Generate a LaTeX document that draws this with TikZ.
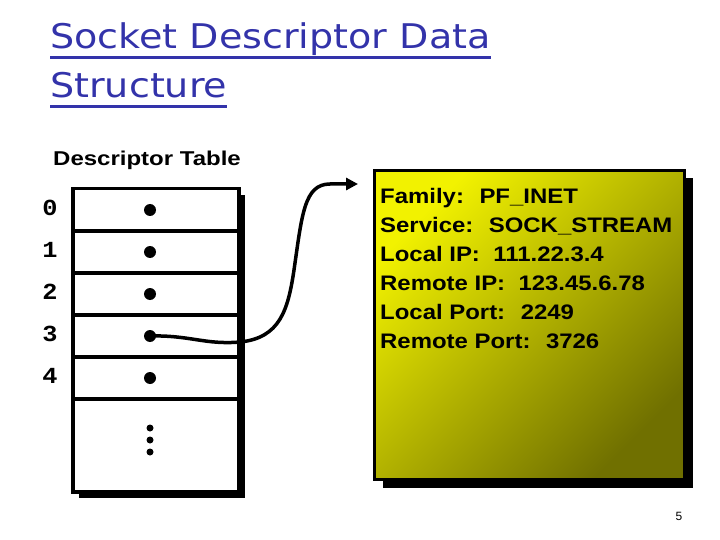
\documentclass[tikz,border=0pt]{standalone}
\usepackage{fontspec}
\setmainfont{Liberation Sans}
\newfontfamily\ttlfont[FakeStretch=1.12]{DejaVu Sans}
\newfontfamily\boxfont[FakeStretch=1.14]{Liberation Sans}
\newfontfamily\hdrfont[FakeStretch=1.2]{Liberation Sans}
\newfontfamily\idxfont[FakeStretch=1.1]{Liberation Mono}
\newcommand{\ttlunder}[1]{\setbox0\hbox{#1}\rlap{\rule[-10.5pt]{\wd0}{3pt}}\box0}
\usetikzlibrary{arrows.meta,positioning,shadows}
\definecolor{ttl}{RGB}{51,51,170}
\definecolor{lem}{RGB}{242,242,0}
\definecolor{olv}{RGB}{112,112,0}

\begin{document}
\begin{tikzpicture}[x=1pt,y=-1pt,>={Triangle[length=12pt,width=12pt]},
  cell/.style={draw,line width=3.5pt,minimum width=166pt,minimum height=42pt,anchor=north,inner sep=0pt},
  idx/.style={font=\idxfont\bfseries\fontsize{23}{23}\selectfont,inner sep=0pt},
  ptr/.style={circle,fill,inner sep=0pt,minimum size=12pt},
  more/.style={circle,fill,inner sep=0pt,minimum size=7pt},
  shade/.style={drop shadow={shadow xshift=#1,shadow yshift=-#1,fill=black,opacity=1}}]
\useasboundingbox (0,0) rectangle (720,540);

% ---------- title ----------
\node[anchor=north west,inner sep=0pt,align=left,text=ttl,
  font=\ttlfont\fontsize{34}{49}\selectfont] (ttl) at (50,22)
  {\ttlunder{Socket Descriptor Data}\\\ttlunder{Structure}};

% ---------- descriptor table ----------
\node[font=\hdrfont\bfseries\fontsize{20}{20}\selectfont] (hdr) at (147,160) {Descriptor Table};
\node[draw,line width=3.5pt,fill=white,shade=6pt,minimum width=166pt,minimum height=303pt,
  anchor=north,inner sep=0pt] (tab) at (156,187) {};
\foreach \k in {0,...,4} {
  \node[cell] (r\k) at (156,{187+42*\k}) {};
  \node[idx] (i\k) at (50,{208+42*\k}) {\k};
  \node[ptr] (d\k) at (150,{210+42*\k}) {};
}
\node[cell,line width=2.5pt,minimum height=93pt] (r5) at (156,397) {};
\node[more] (e1) at (150,428) {};
\node[more] (e2) at (150,440) {};
\node[more] (e3) at (150,452) {};

% ---------- socket structure ----------
\node[draw,line width=3pt,shading=axis,top color=lem,bottom color=olv,shading angle=45,
  shade=8pt,minimum width=310pt,minimum height=309pt,anchor=north west,inner sep=0pt] (info) at (373,169) {};
\node[anchor=north west,inner sep=0pt,align=left,
  font=\boxfont\bfseries\fontsize{21}{29}\selectfont] (facts) at (380,188)
  {Family:~ PF\_INET\\
   Service:~ SOCK\_STREAM\\
   Local IP:~ 111.22.3.4\\
   Remote IP:~ 123.45.6.78\\
   Local Port:~ 2249\\
   Remote Port:~ 3726};
\coordinate (tip) at (358,184);
\draw[->,line width=3.5pt] (d3.center) .. controls (190,335) and (205,345) .. (240,342)
  .. controls (280,338) and (288,310) .. (294,270)
  .. controls (302,215) and (304,184) .. (330,184) -- (tip);

\node[font=\fontsize{12}{12}\selectfont] (pg) at (679,516) {5};
\end{tikzpicture}
\end{document}
